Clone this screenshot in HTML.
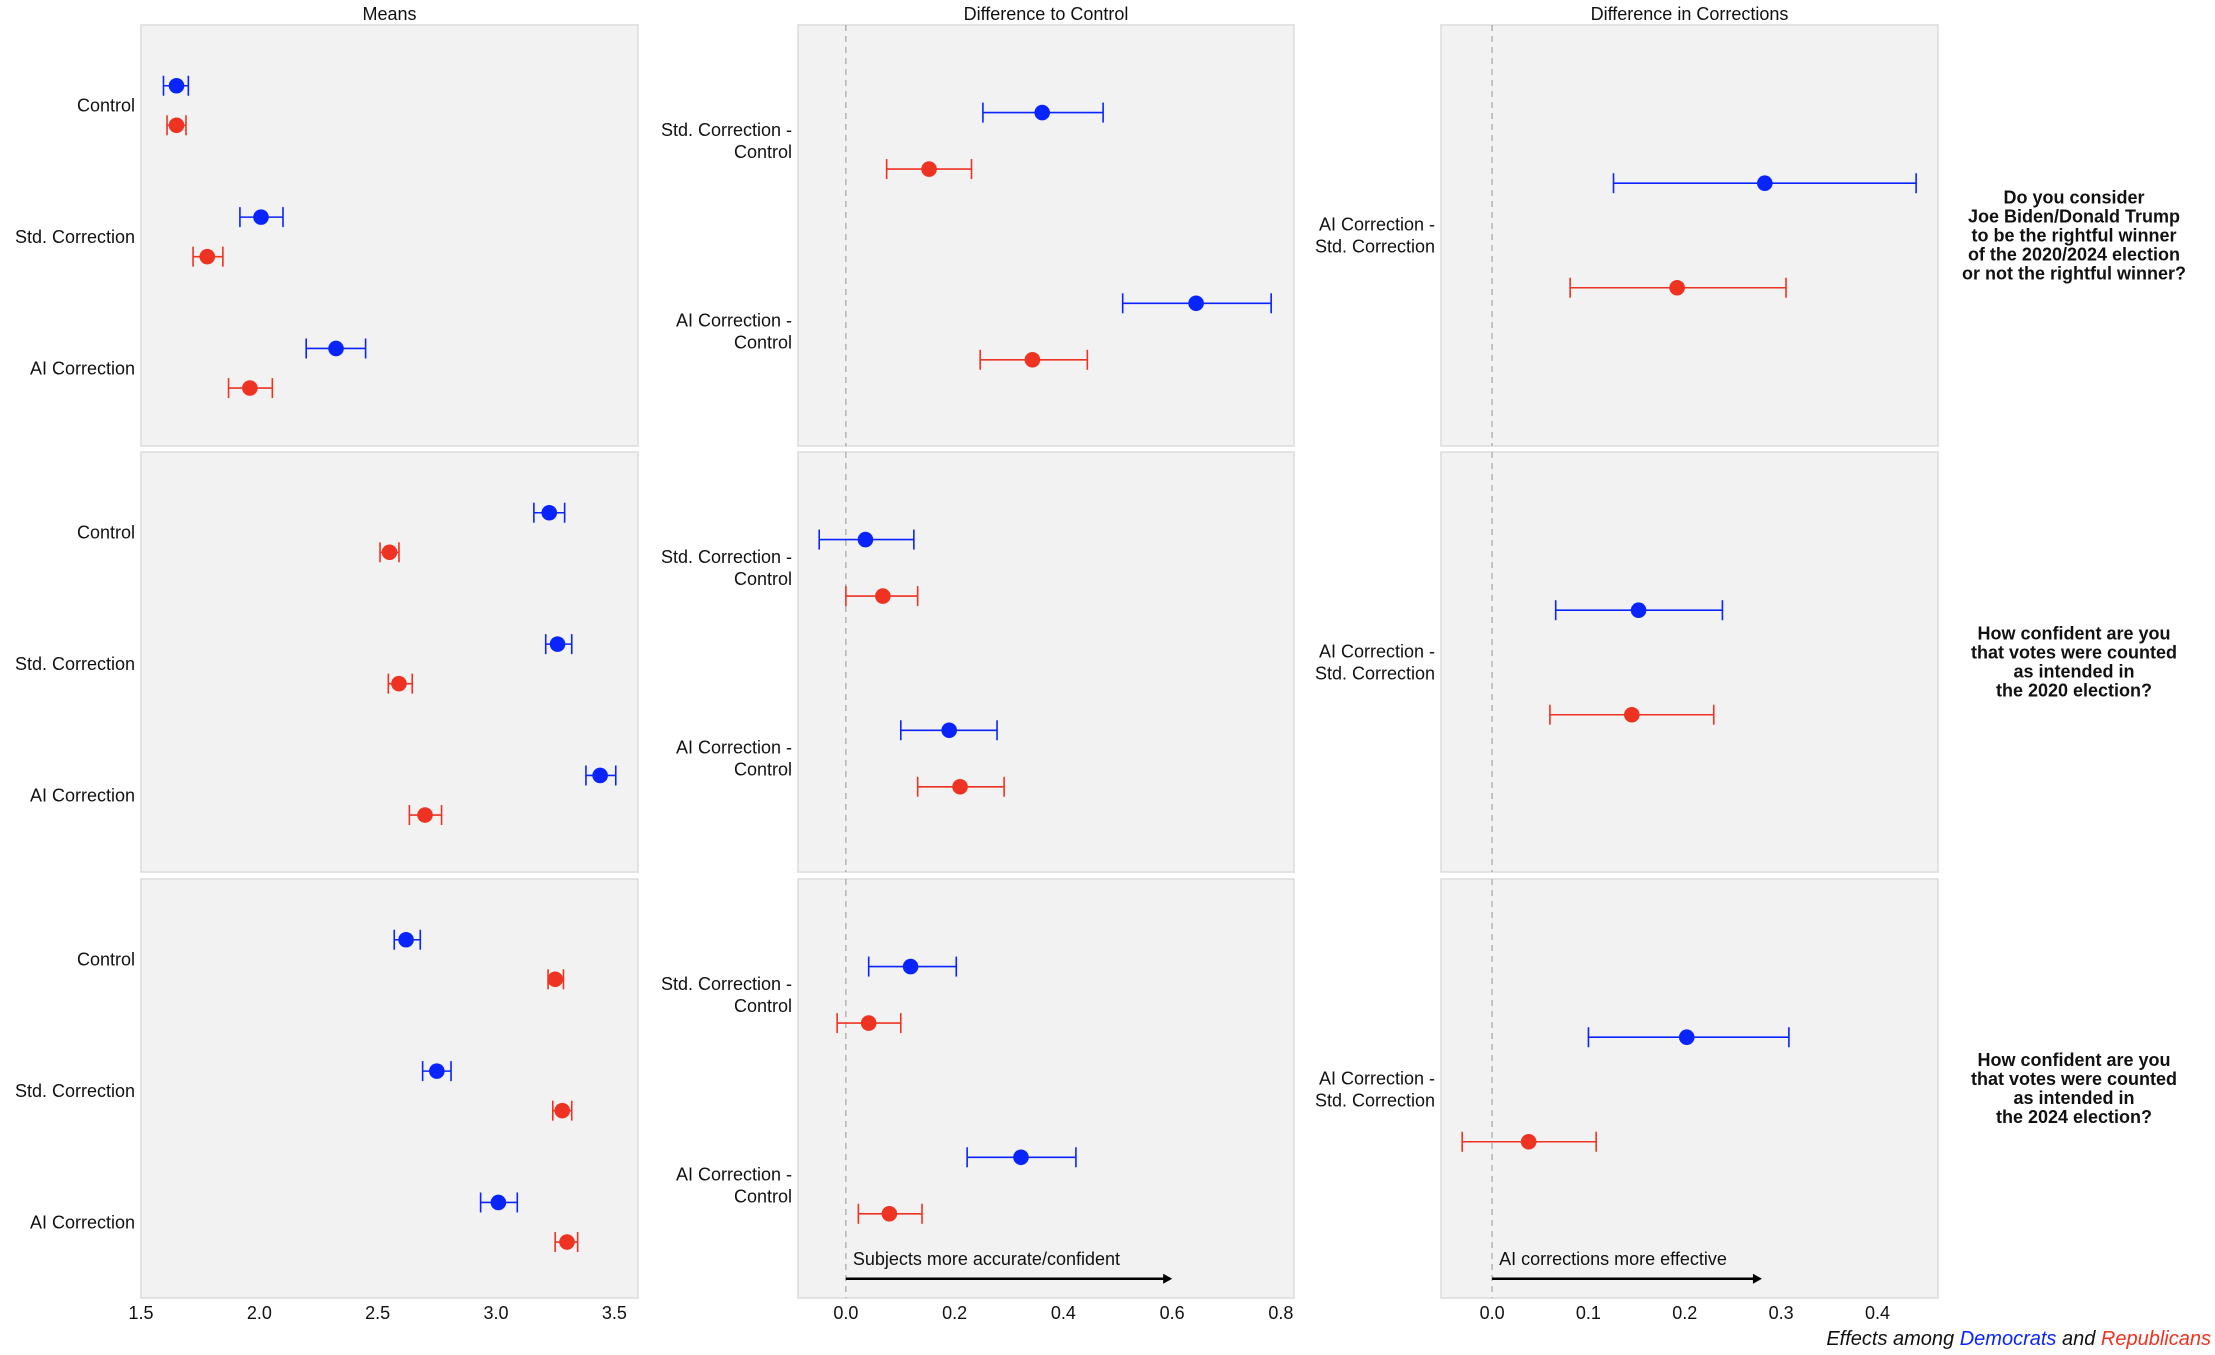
<!DOCTYPE html>
<html><head><meta charset="utf-8">
<style>
html,body{margin:0;padding:0;background:#fff;}
svg{display:block;font-family:"Liberation Sans","DejaVu Sans",sans-serif;}
</style></head>
<body>
<svg id="chart" width="2215" height="1355" viewBox="0 0 2215 1355" xmlns="http://www.w3.org/2000/svg"></svg>
<script>
// ---- data ----
const meanCategories = ["Control","Std. Correction","AI Correction"];
const diffCategories = ["Std. Correction -|Control","AI Correction -|Control"];
const corrCategories = ["AI Correction -|Std. Correction"];
const colTitles = ["Means","Difference to Control","Difference in Corrections"];
const questions = [
 ["Do you consider","Joe Biden/Donald Trump","to be the rightful winner","of the 2020/2024 election","or not the rightful winner?"],
 ["How confident are you","that votes were counted","as intended in","the 2020 election?"],
 ["How confident are you","that votes were counted","as intended in","the 2024 election?"]
];
// [estimate, low, high] per category; rows = questions
const meansDem = [
 [[1.65,1.595,1.70],[2.007,1.918,2.10],[2.324,2.198,2.449]],
 [[3.225,3.16,3.29],[3.26,3.21,3.32],[3.44,3.38,3.506]],
 [[2.62,2.57,2.68],[2.75,2.69,2.81],[3.01,2.935,3.09]]
];
const meansRep = [
 [[1.65,1.61,1.69],[1.78,1.72,1.846],[1.96,1.87,2.055]],
 [[2.55,2.51,2.59],[2.59,2.545,2.646],[2.70,2.634,2.77]],
 [[3.25,3.22,3.285],[3.28,3.24,3.32],[3.30,3.25,3.345]]
];
const diffDem = [
 [[0.361,0.252,0.473],[0.644,0.509,0.782]],
 [[0.036,-0.049,0.125],[0.19,0.101,0.278]],
 [[0.119,0.042,0.203],[0.322,0.223,0.423]]
];
const diffRep = [
 [[0.153,0.075,0.231],[0.343,0.247,0.444]],
 [[0.068,0.0,0.132],[0.21,0.132,0.291]],
 [[0.042,-0.016,0.101],[0.08,0.023,0.14]]
];
const corrDem = [[[0.283,0.126,0.44]],[[0.152,0.066,0.239]],[[0.202,0.1,0.308]]];
const corrRep = [[[0.192,0.081,0.305]],[[0.145,0.06,0.23]],[[0.038,-0.031,0.108]]];
const meanTicks = [1.5,2.0,2.5,3.0,3.5];
const diffTicks = [0.0,0.2,0.4,0.6,0.8];
const corrTicks = [0.0,0.1,0.2,0.3,0.4];
const meanTickLabels = ["1.5","2.0","2.5","3.0","3.5"];
const diffTickLabels = ["0.0","0.2","0.4","0.6","0.8"];
const corrTickLabels = ["0.0","0.1","0.2","0.3","0.4"];

// ---- layout ----
const S = 1.4126;
const NS = "http://www.w3.org/2000/svg";
const svg = document.getElementById('chart');
const BLUE = "#0a24ff", RED = "#ee3322";
const cols = [{x0:141,x1:638,d0:1.5,d1:3.6},{x0:798,x1:1294,d0:-0.088,d1:0.824},{x0:1441,x1:1938,d0:-0.053,d1:0.4627}];
const rows = [{y0:25,y1:446},{y0:452,y1:872},{y0:879,y1:1298}];
function sx(c,v){const C=cols[c];return C.x0+(v-C.d0)/(C.d1-C.d0)*(C.x1-C.x0);}
function mk(tag,attrs,parent){const e=document.createElementNS(NS,tag);for(const k in attrs)e.setAttribute(k,attrs[k]);(parent||svg).appendChild(e);return e;}

// titles
colTitles.forEach((t,c)=>{
 const e=mk('text',{x:(cols[c].x0+cols[c].x1)/2,y:20,'text-anchor':'middle','font-size':18,fill:'#111'});
 
 
 e.textContent=t;
});

function drawPoint(c,y,d,color){
 const g=mk('g',{});
 
 
 const a=sx(c,d[1]),b=sx(c,d[2]),m=sx(c,d[0]);
 mk('line',{x1:a,x2:b,y1:y,y2:y,stroke:color,'stroke-width':1.6},g);
 mk('line',{x1:a,x2:a,y1:y-10,y2:y+10,stroke:color,'stroke-width':1.6},g);
 mk('line',{x1:b,x2:b,y1:y-10,y2:y+10,stroke:color,'stroke-width':1.6},g);
 mk('circle',{cx:m,cy:y,r:7.8,fill:color},g);
}
function label(x,y,txt){
 const parts=txt.split('|');
 const e=mk('text',{x:x,y:y-(parts.length-1)*11+6,'text-anchor':'end','font-size':18,fill:'#111'});
 
 
 parts.forEach((p,i)=>{const t=mk('tspan',{x:x,dy:i?22:0},e);t.textContent=p;});
}

rows.forEach((R,r)=>{
 cols.forEach((C,c)=>{
  const p=mk('rect',{x:C.x0,y:R.y0,width:C.x1-C.x0,height:R.y1-R.y0,fill:'#f2f2f2',stroke:'#dcdcdc','stroke-width':1.5});
  
  
  if(c>0){
   const z=sx(c,0);
   const l=mk('line',{x1:z,x2:z,y1:R.y0,y2:R.y1,stroke:'#aaa','stroke-width':1.3,'stroke-dasharray':'6,5'});
   
   
  }
 });
 // means
 meanCategories.forEach((cat,i)=>{
  const yc=R.y0+(57+93*i)*S;
  label(cols[0].x0-6,yc,cat);
  drawPoint(0,yc-14*S,meansDem[r][i],BLUE);
  drawPoint(0,yc+14*S,meansRep[r][i],RED);
 });
 diffCategories.forEach((cat,i)=>{
  const yc=R.y0+(82+135*i)*S;
  label(cols[1].x0-6,yc,cat);
  drawPoint(1,yc-20*S,diffDem[r][i],BLUE);
  drawPoint(1,yc+20*S,diffRep[r][i],RED);
 });
 corrCategories.forEach((cat,i)=>{
  const yc=R.y0+149*S;
  label(cols[2].x0-6,yc,cat);
  drawPoint(2,yc-37*S,corrDem[r][i],BLUE);
  drawPoint(2,yc+37*S,corrRep[r][i],RED);
 });
 // question
 const q=questions[r];
 const qy=R.y0+(R.y1-R.y0)/2-(q.length-1)*9.5+6;
 const qt=mk('text',{x:2074,y:qy,'text-anchor':'middle','font-size':18,'font-weight':'bold',fill:'#111'});
 
 
 q.forEach((l,i)=>{const t=mk('tspan',{x:2074,dy:i?19:0},qt);t.textContent=l;});
});

// ticks
[[meanTicks,meanTickLabels],[diffTicks,diffTickLabels],[corrTicks,corrTickLabels]].forEach((tk,c)=>{
 tk[0].forEach((v,i)=>{
  const e=mk('text',{x:sx(c,v),y:1319,'text-anchor':'middle','font-size':18,fill:'#111'});
  
  
  e.textContent=tk[1][i];
 });
});

// arrows
function arrow(c,v,txt){
 const y=rows[2].y0+283*S, x0=sx(c,0), x1=sx(c,v);
 const g=mk('g',{});
 
 
 mk('line',{x1:x0,x2:x1-8,y1:y,y2:y,stroke:'#000','stroke-width':2.5},g);
 mk('polygon',{points:`${x1},${y} ${x1-9},${y-5} ${x1-9},${y+5}`,fill:'#000'},g);
 const t=mk('text',{x:x0+7,y:y-14,'font-size':18,fill:'#111'},g);
 t.textContent=txt;
}
arrow(1,0.6,"Subjects more accurate/confident");
arrow(2,0.28,"AI corrections more effective");

// footer
const f=mk('text',{x:2211,y:1345,'text-anchor':'end','font-size':20,'font-style':'italic',fill:'#111'});


f.innerHTML='Effects among <tspan fill="'+BLUE+'">Democrats</tspan> and <tspan fill="'+RED+'">Republicans</tspan>';
</script>
</body></html>
